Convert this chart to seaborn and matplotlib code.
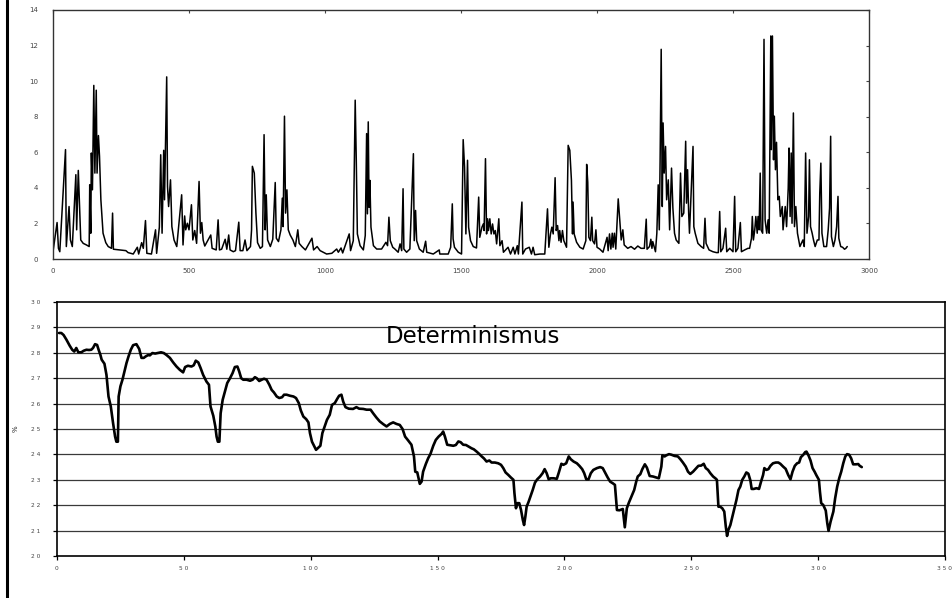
import numpy as np
import pandas as pd
import matplotlib
matplotlib.use("Agg")
import matplotlib.pyplot as plt
from matplotlib.lines import Line2D
import seaborn as sns

top_x = [0, 15, 20, 25, 46, 49, 59, 64, 71, 84, 87, 93, 98, 102, 111, 123, 133, 135, 139, 141,
         145, 150, 154, 159, 162, 167, 171, 176, 184, 194, 203, 215, 219, 222, 246, 268, 276,
         295, 310, 315, 326, 332, 340, 345, 362, 377, 381, 391, 396, 401, 407, 410, 418, 421,
         425, 432, 437, 445, 455, 473, 478, 484, 488, 494, 500, 509, 514, 521, 528, 537, 542,
         547, 552, 558, 580, 585, 600, 607, 612, 620, 633, 639, 646, 651, 663, 671, 683, 688,
         698, 706, 713, 726, 730, 733, 740, 746, 752, 762, 770, 776, 780, 784, 789, 799, 808,
         817, 821, 829, 838, 843, 846, 851, 855, 860, 865, 872, 882, 891, 900, 905, 915, 928,
         952, 958, 971, 982, 1006, 1025, 1043, 1049, 1059, 1065, 1089, 1094, 1104, 1111, 1115,
         1119, 1129, 1141, 1148, 1153, 1156, 1159, 1162, 1165, 1169, 1178, 1190, 1208, 1224,
         1230, 1235, 1240, 1249, 1257, 1269, 1276, 1282, 1287, 1290, 1300, 1312, 1325, 1328,
         1333, 1337, 1347, 1361, 1370, 1374, 1398, 1420, 1422, 1453, 1462, 1468, 1471, 1476,
         1490, 1502, 1508, 1513, 1518, 1524, 1528, 1535, 1545, 1557, 1565, 1569, 1577, 1582,
         1585, 1590, 1594, 1598, 1601, 1606, 1611, 1616, 1621, 1626, 1631, 1639, 1643, 1651,
         1656, 1673, 1682, 1692, 1698, 1707, 1711, 1724, 1727, 1737, 1751, 1759, 1765, 1771,
         1790, 1808, 1818, 1823, 1829, 1834, 1839, 1846, 1850, 1855, 1860, 1863, 1868, 1873,
         1878, 1888, 1894, 1900, 1906, 1910, 1912, 1916, 1925, 1937, 1949, 1959, 1962, 1966,
         1970, 1976, 1981, 1984, 1991, 1996, 2000, 2010, 2022, 2037, 2041, 2046, 2051, 2056,
         2059, 2064, 2069, 2078, 2089, 2095, 2100, 2113, 2125, 2138, 2150, 2162, 2174, 2181,
         2184, 2193, 2198, 2202, 2205, 2215, 2220, 2225, 2229, 2232, 2236, 2240, 2243, 2247,
         2252, 2256, 2262, 2267, 2274, 2279, 2285, 2291, 2301, 2307, 2312, 2319, 2326, 2329,
         2333, 2337, 2340, 2345, 2353, 2356, 2361, 2371, 2383, 2392, 2397, 2401, 2412, 2426,
         2439, 2446, 2451, 2455, 2463, 2473, 2477, 2488, 2500, 2506, 2510, 2518, 2527, 2531,
         2543, 2555, 2561, 2568, 2571, 2575, 2580, 2584, 2589, 2592, 2596, 2600, 2603, 2609,
         2614, 2618, 2624, 2629, 2633, 2639, 2641, 2645, 2649, 2652, 2656, 2660, 2665, 2670,
         2674, 2681, 2684, 2692, 2697, 2703, 2706, 2710, 2714, 2717, 2722, 2726, 2731, 2737,
         2746, 2757, 2762, 2767, 2772, 2778, 2781, 2785, 2791, 2796, 2802, 2810, 2816, 2819,
         2823, 2827, 2834, 2844, 2850, 2855, 2859, 2862, 2869, 2875, 2881, 2886, 2889, 2896,
         2903, 2910, 2915, 2920]
top_y = [0.41, 2.05, 0.60, 0.41, 6.15, 0.70, 2.95, 1.07, 0.70, 4.74, 1.64, 4.98, 2.76, 1.07,
         0.88, 0.79, 0.70, 4.17, 1.45, 5.96, 3.89, 9.76, 4.83, 9.49, 4.83, 6.94, 5.77, 3.33,
         1.45, 0.92, 0.70, 0.60, 2.58, 0.55, 0.51, 0.47, 0.36, 0.28, 0.66, 0.28, 0.92, 0.60,
         2.16, 0.32, 0.28, 1.64, 0.32, 1.79, 5.86, 1.45, 6.11, 3.33, 10.24, 4.08, 2.95, 4.45,
         1.82, 1.07, 0.70, 3.61, 0.79, 2.42, 1.64, 2.01, 1.64, 3.05, 1.07, 1.60, 0.88, 4.36,
         1.45, 2.05, 1.07, 0.73, 1.35, 0.60, 0.51, 2.20, 0.51, 0.55, 1.11, 0.55, 1.35, 0.51,
         0.41, 0.47, 2.07, 0.47, 0.47, 1.07, 0.47, 0.70, 1.64, 5.21, 4.83, 2.58, 0.92, 0.60,
         0.70, 6.99, 1.64, 3.61, 1.07, 0.70, 1.11, 4.30, 1.17, 0.98, 1.64, 3.42, 1.82, 8.03,
         2.58, 3.89, 1.64, 1.35, 1.07, 0.70, 1.64, 0.88, 0.70, 0.51, 1.17, 0.51, 0.70, 0.47,
         0.28, 0.32, 0.56, 0.38, 0.62, 0.34, 1.41, 0.47, 1.03, 8.93, 5.55, 1.41, 0.75, 0.51,
         1.32, 7.05, 2.54, 7.71, 2.91, 4.42, 1.79, 0.75, 0.56, 0.56, 0.94, 0.75, 2.35, 1.03,
         0.66, 0.56, 0.38, 0.85, 0.47, 3.95, 0.56, 0.38, 0.56, 5.92, 1.03, 2.73, 1.03, 0.56,
         0.38, 1.00, 0.38, 0.28, 0.51, 0.28, 0.28, 0.66, 3.10, 1.13, 0.66, 0.38, 0.28, 6.71,
         5.17, 1.41, 5.55, 1.79, 1.03, 0.70, 0.62, 3.48, 1.22, 1.79, 1.97, 1.60, 5.64, 1.41,
         2.26, 1.60, 2.26, 1.41, 1.97, 1.41, 1.60, 0.85, 2.26, 0.75, 1.03, 0.38, 0.66, 0.28,
         0.66, 0.28, 0.75, 0.28, 3.20, 0.28, 0.56, 0.66, 0.28, 0.66, 0.24, 0.28, 0.28, 2.82,
         0.66, 1.41, 1.79, 1.41, 4.57, 1.60, 1.88, 1.03, 1.60, 0.94, 1.60, 1.03, 0.66, 6.39,
         6.11, 4.42, 1.41, 3.20, 1.41, 0.94, 0.66, 0.56, 1.03, 5.32, 4.32, 1.22, 1.03, 2.35,
         1.03, 0.85, 1.64, 0.66, 0.56, 0.38, 1.22, 0.47, 1.41, 0.56, 1.45, 0.66, 1.45, 0.56,
         3.38, 1.07, 1.64, 0.79, 0.60, 0.70, 0.55, 0.73, 0.60, 0.60, 2.24, 0.55, 0.70, 1.11,
         0.60, 0.98, 0.41, 1.45, 4.17, 1.64, 5.49, 11.79, 2.95, 7.65, 4.83, 6.33, 3.33, 4.45,
         1.64, 5.11, 2.86, 1.45, 1.07, 0.88, 4.83, 2.39, 2.58, 6.62, 3.14, 5.02, 2.58, 1.45,
         3.33, 6.33, 1.82, 1.45, 0.88, 0.70, 0.60, 2.29, 0.88, 0.51, 0.41, 0.36, 0.36, 2.67,
         0.41, 0.60, 1.73, 0.41, 0.60, 0.41, 3.52, 0.41, 0.60, 2.05, 0.41, 0.51, 0.60, 0.60,
         1.17, 2.39, 1.07, 1.64, 2.39, 1.45, 2.39, 1.64, 4.83, 1.64, 1.45, 12.35, 2.20, 1.45,
         2.20, 1.45, 12.54, 6.15, 12.54, 5.58, 8.03, 5.02, 6.56, 3.33, 3.52, 2.39, 2.95, 1.64,
         2.95, 1.82, 3.98, 6.24, 2.39, 5.96, 2.01, 8.21, 1.82, 2.95, 1.45, 0.70, 1.07, 0.70,
         5.96, 1.45, 2.39, 5.58, 1.82, 1.45, 1.07, 0.70, 1.07, 1.07, 3.70, 5.39, 1.45, 0.70,
         0.70, 1.64, 2.86, 6.90, 1.26, 0.70, 1.07, 1.82, 3.52, 1.17, 0.70, 0.66, 0.55, 0.60,
         0.70]

# lower series: "Determinismus" in %
det_x = [0.8, 1.7, 2.6, 3.7, 5.0, 6.0, 6.8, 7.6, 8.4, 9.6, 10.5, 11.6, 12.6, 13.5, 14.2, 15.0,
         15.8, 16.4, 17.1, 17.6, 18.7, 19.5, 20.3, 21.2, 22.1, 22.9, 23.4, 24.0, 24.3, 25.0,
         25.8, 26.6, 27.4, 28.2, 29.1, 30.0, 31.3, 32.4, 33.3, 34.2, 35.0, 35.9, 36.6, 37.6,
         38.7, 39.7, 41.0, 42.1, 43.2, 44.5, 45.8, 47.1, 48.4, 49.7, 50.5, 51.6, 53.0, 53.9,
         54.7, 55.7, 56.6, 57.6, 58.9, 59.9, 60.5, 61.6, 62.4, 62.9, 63.4, 64.0, 64.5, 65.3,
         66.2, 67.1, 68.2, 69.2, 70.1, 71.1, 71.8, 72.6, 73.4, 74.7, 76.1, 77.1, 78.0, 78.7,
         79.7, 80.7, 81.6, 82.6, 83.7, 84.6, 85.5, 86.6, 87.6, 88.7, 89.5, 90.5, 91.8, 93.2,
         94.2, 95.3, 96.1, 97.1, 98.2, 99.1, 99.7, 100.5, 101.3, 102.1, 103.8, 104.6, 105.5,
         106.4, 107.5, 108.4, 109.5, 110.4, 111.2, 112.1, 112.8, 113.7, 115.0, 116.7, 118.0,
         119.1, 120.7, 122.0, 123.6, 124.6, 125.9, 127.2, 128.6, 129.9, 131.2, 132.5, 133.8,
         135.1, 136.2, 137.2, 138.4, 139.7, 140.7, 141.2, 142.0, 143.0, 143.7, 144.3, 145.4,
         146.3, 147.2, 148.3, 149.3, 150.4, 151.6, 152.2, 152.9, 153.8, 154.9, 156.2, 157.2,
         158.2, 159.1, 160.1, 161.2, 162.2, 163.4, 164.3, 165.4, 166.4, 167.4, 168.3, 169.3,
         170.4, 171.3, 172.6, 173.9, 175.0, 175.9, 176.8, 177.9, 178.9, 179.9, 180.3, 180.9,
         181.4, 182.2, 182.9, 183.6, 184.1, 184.6, 185.1, 185.9, 186.7, 187.5, 188.4, 189.3,
         190.4, 191.4, 192.2, 193.0, 193.8, 194.6, 195.7, 197.0, 197.8, 198.8, 199.6, 200.7,
         201.7, 202.5, 203.6, 204.9, 205.9, 207.0, 207.8, 208.6, 209.5, 210.4, 211.4, 212.8,
         214.1, 215.1, 216.0, 217.0, 218.0, 219.1, 219.9, 220.7, 221.7, 223.0, 223.8, 224.6,
         225.4, 226.4, 227.5, 228.3, 228.9, 229.9, 230.7, 231.7, 232.5, 233.6, 234.9, 236.2,
         237.2, 238.2, 238.6, 239.5, 240.1, 241.2, 242.1, 243.4, 244.7, 245.7, 246.7, 247.8,
         248.7, 249.6, 250.7, 251.7, 252.8, 253.9, 254.9, 255.7, 256.6, 257.5, 258.6, 259.6,
         260.1, 260.7, 261.4, 262.2, 263.0, 263.6, 264.1, 264.6, 265.4, 266.2, 267.0, 267.8,
         268.6, 269.3, 270.1, 270.9, 271.7, 272.5, 273.3, 273.8, 274.6, 275.7, 276.7, 277.5,
         278.3, 278.8, 279.6, 280.4, 281.2, 282.2, 283.3, 284.3, 285.1, 286.2, 287.2, 288.2,
         289.1, 289.9, 290.8, 291.7, 292.5, 293.2, 294.1, 294.9, 295.4, 296.2, 297.0, 297.8,
         298.6, 299.3, 300.3, 300.7, 301.2, 302.0, 303.0, 303.6, 304.1, 304.9, 306.0, 306.7,
         307.5, 308.3, 309.1, 309.9, 310.7, 311.4, 312.2, 313.0, 313.8, 314.9, 315.8, 316.4,
         317.2]
det_y = [28.78, 28.78, 28.70, 28.52, 28.28, 28.12, 28.05, 28.19, 28.02, 28.02, 28.08, 28.12,
         28.11, 28.12, 28.19, 28.34, 28.31, 28.12, 27.92, 27.73, 27.57, 27.13, 26.28, 25.89,
         25.23, 24.70, 24.50, 24.50, 26.28, 26.68, 26.94, 27.27, 27.60, 27.86, 28.12, 28.30,
         28.34, 28.15, 27.80, 27.80, 27.86, 27.91, 27.90, 27.99, 27.97, 27.99, 28.02, 27.99,
         27.91, 27.80, 27.62, 27.46, 27.33, 27.23, 27.44, 27.49, 27.46, 27.51, 27.69, 27.62,
         27.40, 27.13, 26.87, 26.74, 25.89, 25.52, 25.10, 24.70, 24.50, 24.50, 25.62, 26.15,
         26.48, 26.81, 27.00, 27.20, 27.44, 27.46, 27.27, 27.00, 26.94, 26.94, 26.90, 26.94,
         27.04, 27.00, 26.89, 26.94, 26.98, 26.94, 26.74, 26.54, 26.44, 26.28, 26.22, 26.25,
         26.35, 26.35, 26.31, 26.28, 26.22, 26.02, 25.73, 25.49, 25.39, 25.26, 24.84, 24.50,
         24.34, 24.18, 24.34, 24.84, 25.10, 25.36, 25.56, 25.95, 26.02, 26.18, 26.31, 26.35,
         26.08, 25.86, 25.80, 25.79, 25.86, 25.80, 25.79, 25.76, 25.76, 25.62, 25.45, 25.30,
         25.19, 25.10, 25.20, 25.26, 25.20, 25.16, 25.00, 24.70, 24.55, 24.38, 23.92, 23.32,
         23.29, 22.84, 22.93, 23.32, 23.63, 23.85, 24.02, 24.34, 24.57, 24.70, 24.81, 24.90,
         24.70, 24.38, 24.36, 24.34, 24.37, 24.51, 24.48, 24.38, 24.37, 24.31, 24.24, 24.20,
         24.11, 24.02, 23.92, 23.84, 23.72, 23.76, 23.68, 23.68, 23.65, 23.59, 23.46, 23.29,
         23.19, 23.09, 23.00, 22.47, 21.88, 22.08, 22.08, 21.81, 21.42, 21.22, 21.55, 21.94,
         22.14, 22.37, 22.60, 22.89, 23.02, 23.13, 23.26, 23.42, 23.26, 23.02, 23.06, 23.06,
         23.04, 23.29, 23.63, 23.59, 23.65, 23.92, 23.81, 23.72, 23.65, 23.55, 23.42, 23.26,
         23.02, 23.02, 23.26, 23.39, 23.46, 23.50, 23.46, 23.29, 23.10, 22.93, 22.86, 22.80,
         21.81, 21.80, 21.85, 21.13, 21.88, 22.10, 22.34, 22.60, 22.93, 23.13, 23.22, 23.42,
         23.61, 23.48, 23.15, 23.13, 23.09, 23.06, 23.52, 23.96, 23.92, 23.96, 24.01, 23.99,
         23.94, 23.92, 23.81, 23.68, 23.52, 23.32, 23.23, 23.32, 23.43, 23.55, 23.56, 23.63,
         23.46, 23.39, 23.26, 23.13, 23.05, 23.00, 21.94, 21.94, 21.88, 21.75, 21.16, 20.79,
         21.02, 21.22, 21.55, 21.88, 22.21, 22.60, 22.73, 23.00, 23.13, 23.29, 23.24, 22.97,
         22.64, 22.64, 22.67, 22.64, 22.93, 23.19, 23.46, 23.39, 23.42, 23.55, 23.65, 23.68,
         23.68, 23.63, 23.52, 23.43, 23.19, 23.02, 23.32, 23.55, 23.65, 23.68, 23.89, 23.98,
         24.09, 24.11, 23.96, 23.76, 23.46, 23.32, 23.18, 23.00, 22.54, 22.08, 22.01, 21.79,
         21.29, 20.99, 21.35, 21.75, 22.27, 22.73, 23.06, 23.32, 23.65, 23.92, 24.01, 23.99,
         23.85, 23.61, 23.61, 23.62, 23.55, 23.50]

top_xticks = [0, 500, 1000, 1500, 2000, 2500, 3000]
top_yticks = [0, 2, 4, 6, 8, 10, 12, 14]
det_xticks = [0, 50, 100, 150, 200, 250, 300, 350]
det_yticks = list(range(20, 31))
title = "Determinismus"

sns.set_style("white")
plt.rcParams['font.family'] = ['DejaVu Sans']

fig = plt.figure(figsize=(9.53, 5.98), dpi=100)
ax1 = fig.add_axes([53/953, 1 - 259/598, 816/953, 249/598])
ax2 = fig.add_axes([57/953, 1 - 556/598, 888/953, 254/598])

# upper panel
sns.lineplot(x=top_x, y=top_y, ax=ax1, color="black", lw=1.1, estimator=None, sort=False)
ax1.set_xlim(0, 3000)
ax1.set_ylim(0, 14)
ax1.set_xticks(top_xticks)
ax1.set_yticks(top_yticks)
ax1.tick_params(direction="in", length=2.5, width=0.8, color="#444444",
                labelsize=5, labelcolor="#444444", top=True, right=True)
ax1.tick_params(axis="y", pad=11)
ax1.tick_params(axis="x", pad=6.5)
for s in ax1.spines.values():
    s.set_color("#333333")
    s.set_linewidth(1.0)

# lower panel
sns.lineplot(x=det_x, y=det_y, ax=ax2, color="black", lw=1.9, estimator=None, sort=False)
ax2.set_xlim(0, 350)
ax2.set_ylim(20, 30)
ax2.set_xticks(det_xticks)
ax2.set_xticklabels([" ".join(str(v)) for v in det_xticks])
ax2.set_yticks(det_yticks)
ax2.set_yticklabels([" ".join(str(v)) for v in det_yticks])
for v in det_yticks[1:-1]:
    ax2.axhline(v, color="#3a3a3a", lw=0.9, zorder=0)
ax2.tick_params(direction="out", length=3, width=0.9, color="black",
                labelsize=4.2, labelcolor="#444444", left=True, bottom=True)
ax2.tick_params(axis="y", pad=9)
ax2.tick_params(axis="x", pad=4)
for s in ax2.spines.values():
    s.set_color("black")
    s.set_linewidth(1.2)
ax2.set_ylabel("%", fontsize=5, labelpad=9)
ax2.text(0.468, 0.865, title, transform=ax2.transAxes, fontsize=16.5,
         ha="center", va="center", color="black")

# left frame border of the original document
fig.add_artist(Line2D([7.5/953, 7.5/953], [0, 1], color="black", lw=2.2))

fig.savefig("out.png", dpi=100)
